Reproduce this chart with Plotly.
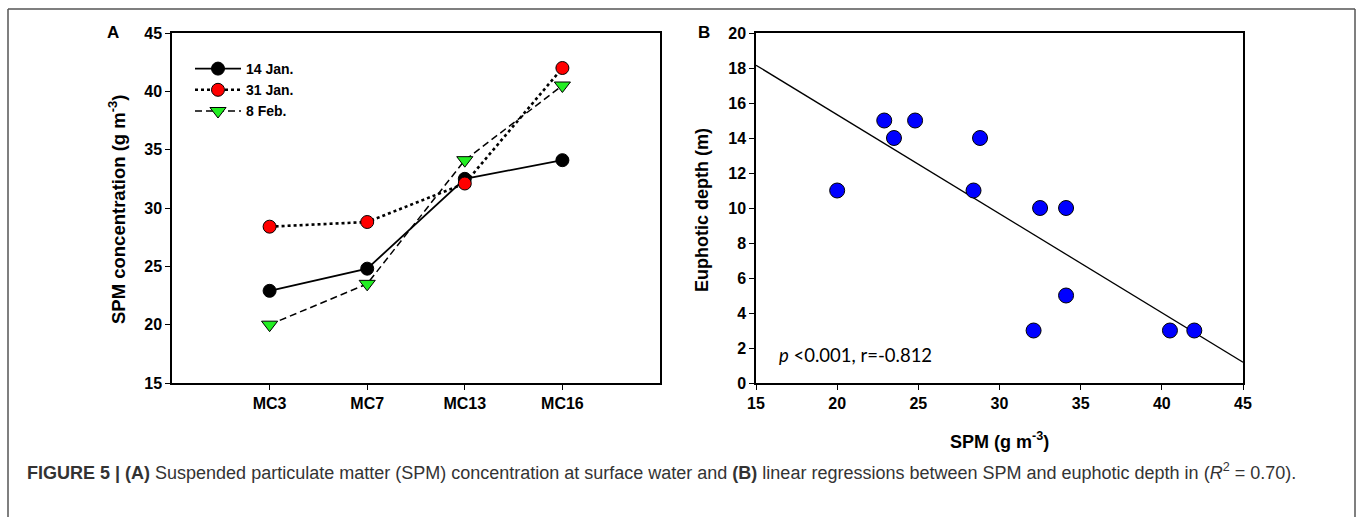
import numpy as np
import plotly.graph_objects as go

# ---------------- data ----------------
sites = ["MC3", "MC7", "MC13", "MC16"]
jan14 = [22.9, 24.8, 32.5, 34.1]
jan31 = [28.4, 28.8, 32.1, 42.0]
feb08 = [20.0, 23.5, 34.1, 40.5]

spm = [20.0, 22.9, 23.5, 24.8, 28.4, 28.8, 32.5, 34.1, 32.1, 34.1, 40.5, 42.0]
euphotic = [11, 15, 14, 15, 11, 14, 10, 10, 3, 5, 3, 3]

ytick_a = [15, 20, 25, 30, 35, 40, 45]
xtick_b = [15, 20, 25, 30, 35, 40, 45]
ytick_b = [0, 2, 4, 6, 8, 10, 12, 14, 16, 18, 20]

W, H = 1358, 517
FONT = "Liberation Sans, Arial, sans-serif"

def px_x(p):
    return p / W

def px_y(p):
    return 1 - p / H

fig = go.Figure()

# ---------------- panel A ----------------
fig.add_trace(go.Scatter(
    x=sites, y=jan14, name="14 Jan.", mode="lines+markers",
    line=dict(color="black", width=1.8, dash="solid"),
    marker=dict(symbol="circle", size=13, color="black", line=dict(color="black", width=1)),
    xaxis="x", yaxis="y"))
fig.add_trace(go.Scatter(
    x=sites, y=jan31, name="31 Jan.", mode="lines+markers",
    line=dict(color="black", width=2.6, dash="dot"),
    marker=dict(symbol="circle", size=13, color="#ff0000", line=dict(color="black", width=1)),
    xaxis="x", yaxis="y"))
fig.add_trace(go.Scatter(
    x=sites, y=feb08, name="8 Feb.", mode="lines+markers",
    line=dict(color="black", width=1.5, dash="7px,4px"),
    marker=dict(symbol="triangle-down", size=14, color="#22ee22", line=dict(color="black", width=1)),
    xaxis="x", yaxis="y"))

# ---------------- panel B ----------------
slope, intercept = np.polyfit(spm, euphotic, 1)
xfit = np.array([xtick_b[0], xtick_b[-1]], dtype=float)
yfit = slope * xfit + intercept
r = np.corrcoef(spm, euphotic)[0, 1]

fig.add_trace(go.Scatter(
    x=xfit, y=yfit, mode="lines", showlegend=False,
    line=dict(color="black", width=1.3), xaxis="x2", yaxis="y2"))
fig.add_trace(go.Scatter(
    x=spm, y=euphotic, mode="markers", showlegend=False,
    marker=dict(symbol="circle", size=15, color="#0000ff", line=dict(color="black", width=1)),
    xaxis="x2", yaxis="y2"))

axis_common = dict(
    showline=True, linecolor="black", linewidth=1.5, mirror=True,
    ticks="outside", ticklen=5, tickwidth=1.2, tickcolor="black",
    showgrid=False, zeroline=False, automargin=False,
    tickfont=dict(family=FONT, size=16, color="black", weight="bold"),
)

fig.update_layout(
    template="none",
    width=W, height=H,
    margin=dict(l=0, r=0, t=0, b=0, pad=0, autoexpand=False),
    paper_bgcolor="white", plot_bgcolor="white",
    font=dict(family=FONT, color="black"),
    xaxis=dict(domain=[px_x(172), px_x(660)], type="category", range=[-1, 4],
               anchor="y", **axis_common),
    yaxis=dict(domain=[px_y(383), px_y(33)], range=[15, 45], tickvals=ytick_a,
               anchor="x", **axis_common),
    xaxis2=dict(domain=[px_x(756), px_x(1243)], range=[15, 45], tickvals=xtick_b,
                anchor="y2", **axis_common),
    yaxis2=dict(domain=[px_y(383), px_y(33)], range=[0, 20], tickvals=ytick_b,
                anchor="x2", **axis_common),
    legend=dict(x=px_x(190), y=px_y(53), xanchor="left", yanchor="top",
                bgcolor="rgba(0,0,0,0)", borderwidth=0, tracegroupgap=0,
                font=dict(family=FONT, size=14, color="black", weight="bold"),
                itemwidth=46),
    showlegend=True,
)

ann = [
    dict(text="<b>A</b>", x=px_x(113), y=px_y(33), font=dict(size=17)),
    dict(text="<b>B</b>", x=px_x(704), y=px_y(33), font=dict(size=17)),
    dict(text="<b>SPM concentration (g m<sup>-3</sup>)</b>", x=px_x(117), y=px_y(210),
         textangle=-90, font=dict(size=18.5)),
    dict(text="<b>Euphotic depth (m)</b>", x=px_x(702), y=px_y(210),
         textangle=-90, font=dict(size=18)),
    dict(text="<b>SPM (g m<sup>-3</sup>)</b>", x=px_x(999), y=px_y(440), font=dict(size=18)),
    dict(text="<i>p</i> &lt;0.001, r=%.3f" % r, x=px_x(777), y=px_y(355), xanchor="left",
         font=dict(size=18.5, family="Lato, Open Sans, sans-serif")),
    dict(text="<b>FIGURE 5 | (A)</b> Suspended particulate matter (SPM) concentration at surface water and "
              "<b>(B)</b> linear regressions between SPM and euphotic depth in (<i>R</i><sup>2</sup> = 0.70).",
         x=px_x(25), y=px_y(471), xanchor="left",
         font=dict(size=18, family=FONT, color="#333333")),
]
for a in ann:
    a.setdefault("xanchor", "center")
    a.setdefault("yanchor", "middle")
    a["xref"] = "paper"
    a["yref"] = "paper"
    a["showarrow"] = False
    f = a["font"]
    f.setdefault("family", FONT)
    f.setdefault("color", "black")
fig.update_layout(annotations=ann)

# outer figure frame (bottom edge lies below the visible page)
frame = dict(type="line", xref="paper", yref="paper",
             line=dict(color="#555555", width=1.5))
fig.add_shape(x0=px_x(8), x1=px_x(8), y0=0, y1=px_y(9), **frame)
fig.add_shape(x0=px_x(8), x1=px_x(1355), y0=px_y(9), y1=px_y(9), **frame)
fig.add_shape(x0=px_x(1355), x1=px_x(1355), y0=0, y1=px_y(9), **frame)

fig.write_html("out.html")
